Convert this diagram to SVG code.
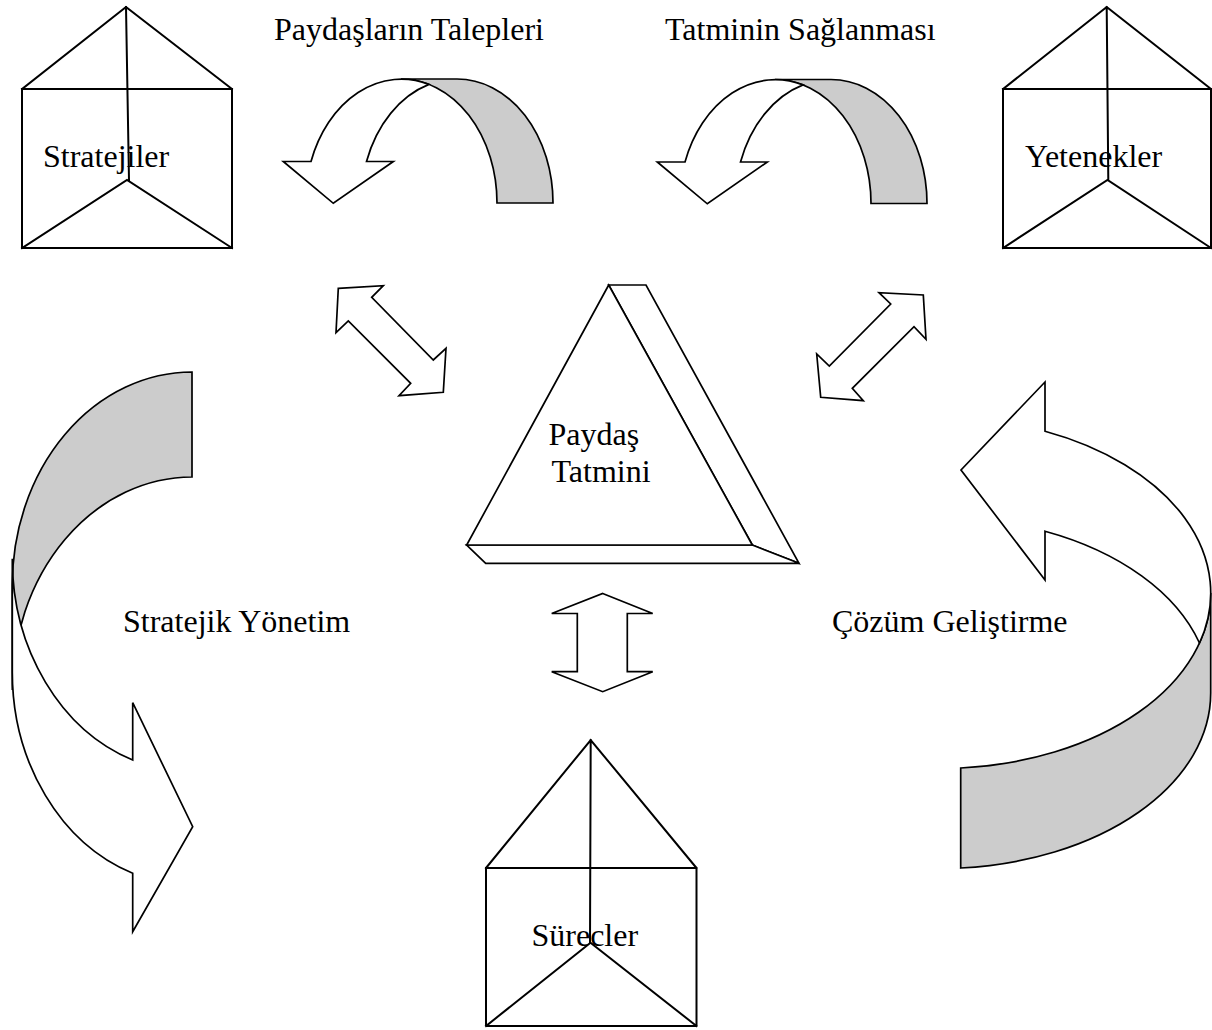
<svg xmlns="http://www.w3.org/2000/svg" width="1212" height="1030" viewBox="0 0 1212 1030">
  <style>
    .edge { fill: none; stroke: #000; stroke-width: 2; stroke-linecap: square; }
    .face { fill: #fff; stroke: #000; stroke-width: 1.7; stroke-linejoin: miter; }
    .back { fill: #cccccc; stroke: #000; stroke-width: 1.7; stroke-linejoin: miter; }
    text { font-family: "Liberation Serif", "Times New Roman", serif; font-size: 32px; fill: #000; }
  </style>
  <defs>
    <!-- U-turn ribbon arrow: grey back band plus white front band with head -->
    <g id="uturn">
      <path class="back" d="M401,79 L457,79 A96,124 0 0 1 553,203 L497,203 A96,124 0 0 0 401,79 Z"/>
      <path class="face" d="M311,161.5 A96,124 0 0 1 429,84.4 A96,124 0 0 0 366.5,161.5 L393.3,161.5 L333.3,203.3 L283.3,161.5 Z"/>
    </g>
  </defs>

  <rect x="0" y="0" width="1212" height="1030" fill="#fff"/>

  <!-- prism: Stratejiler -->
  <g id="node-stratejiler">
    <path class="edge" d="M22,89 L126,7 L232,89 M22,89 H232 V248 H22 Z M22,248 L127,180 L232,248 M126,7 L129,180"/>
    <text x="43" y="167">Stratejiler</text>
  </g>

  <!-- prism: Yetenekler -->
  <g id="node-yetenekler">
    <path class="edge" d="M1003,89 L1106.7,7 L1211,89 M1003,89 H1211 V248 H1003 Z M1003,248 L1107.5,180 L1211,248 M1106.7,7 L1108.3,180"/>
    <text x="1025" y="167">Yetenekler</text>
  </g>

  <!-- prism: Sürecler -->
  <g id="node-surecler">
    <path class="edge" d="M486,868 L590.7,740 L696.5,868 M486,868 H696.5 V1026 H486 Z M486,1026 L590.5,942.7 L696.5,1026 M590.7,740 L590,942.7"/>
    <text x="531.5" y="946">Sürecler</text>
  </g>

  <!-- raised triangle: Paydaş Tatmini -->
  <g id="node-paydas-tatmini">
    <path class="face" d="M608.7,285 L646,285 L799,563.3 L752.3,545 Z"/>
    <path class="face" d="M466.7,545 L752.3,545 L799,563.3 L485.7,563.3 Z"/>
    <path class="face" d="M608.7,285 L466.7,545 L752.3,545 Z"/>
    <text x="548.5" y="445">Paydaş</text>
    <text x="551.5" y="481.5">Tatmini</text>
  </g>

  <g id="connectors">
    <!-- two-way arrows around the centre -->
    <path class="face" d="M338.3,288.3 L383.3,285.7 L371.7,297.3 L433.3,360 L446,348.3 L443.3,392.3 L399,395.7 L410.7,383.3 L348.3,321 L336,332.7 Z"/>
    <path class="face" d="M923.3,295 L926,339.3 L914,326.7 L852.3,388.3 L863.3,400.7 L820.7,397.3 L816.7,354 L829.3,366 L890.7,304 L879,292.7 Z"/>
    <path class="face" d="M602.7,593.5 L652.7,613.5 L627.3,613.5 L627.3,671.7 L652.7,671.7 L602.7,691.7 L551.7,671.7 L577.3,671.7 L577.3,613.5 L551.7,613.5 Z"/>

    <!-- top U-turn arrows -->
    <use href="#uturn"/>
    <use href="#uturn" transform="translate(374,0.5)"/>

    <!-- left sweep: Stratejik Yönetim -->
    <g id="arrow-stratejik-yonetim">
      <path class="back" d="M192,372 A180,213 0 0 0 12.3,585 L12.3,690 A180,213 0 0 1 192,477 Z"/>
      <path class="face" d="M12.3,558.7 A180,213 0 0 0 132.7,760 L132.7,702.7 L192.7,826.7 L132.7,931.7 L132.7,873.3 A180,213 0 0 1 12.3,672 Z"/>
    </g>

    <!-- right sweep: Çözüm Geliştirme -->
    <g id="arrow-cozum-gelistirme">
      <path class="back" d="M960.7,768 A270.7,175.5 0 0 0 1210.7,593 L1210.7,693 A270.7,175.5 0 0 1 960.7,868 Z"/>
      <path class="face" d="M1045,431.2 A270.7,175.5 0 0 1 1199.5,643 A270.7,175.5 0 0 0 1045,531.2 L1045,580 L961,470 L1045,382 Z"/>
    </g>

    <!-- arrow labels -->
    <text x="274" y="40">Paydaşların Talepleri</text>
    <text x="665" y="40">Tatminin Sağlanması</text>
    <text x="123" y="632">Stratejik Yönetim</text>
    <text x="832" y="632">Çözüm Geliştirme</text>
  </g>
</svg>
